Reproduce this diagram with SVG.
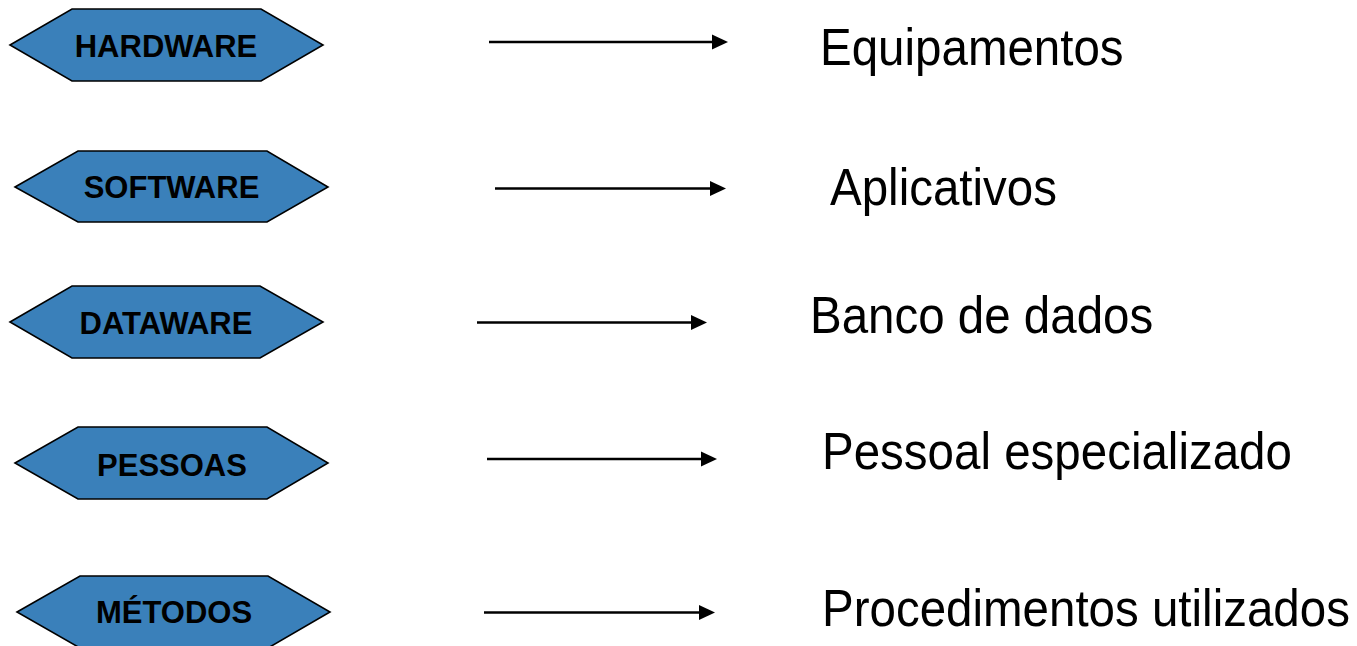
<svg xmlns="http://www.w3.org/2000/svg" width="1357" height="646" viewBox="0 0 1357 646">
  <style>
    .hex { fill: #3a80ba; stroke: #000; stroke-width: 1.6; stroke-linejoin: miter; }
    .tag { font-family: "Liberation Sans", Arial, sans-serif; font-weight: bold; font-size: 31px; fill: #000; text-anchor: middle; }
    .desc { font-family: "Liberation Sans", Arial, sans-serif; font-size: 47.5px; fill: #000; }
    .conn { stroke: #000; stroke-width: 2.5; fill: none; marker-end: url(#ah); }
  </style>
  <defs>
    <marker id="ah" markerWidth="17" markerHeight="16" refX="8" refY="8" orient="auto" markerUnits="userSpaceOnUse">
      <path d="M0,0.5 L16,8 L0,15.5 Z" fill="#000"/>
    </marker>
  </defs>
  <rect width="1357" height="646" fill="#fff"/>

  <!-- Category hexagons -->
  <g id="node-hardware">
    <polygon class="hex" points="10,45 72,9 261,9 323,45 261,81 72,81"/>
    <text class="tag" x="166" y="57">HARDWARE</text>
  </g>
  <g id="node-software">
    <polygon class="hex" points="15,187 78,151 267,151 328,187 267,222 78,222"/>
    <text class="tag" x="171.5" y="197.5">SOFTWARE</text>
  </g>
  <g id="node-dataware">
    <polygon class="hex" points="10,322 72,286 260,286 323,322 260,358 72,358"/>
    <text class="tag" x="166" y="334">DATAWARE</text>
  </g>
  <g id="node-pessoas">
    <polygon class="hex" points="15,463 78,427 267,427 328,463 267,499 78,499"/>
    <text class="tag" x="172" y="476">PESSOAS</text>
  </g>
  <g id="node-metodos">
    <polygon class="hex" points="17,612 80,576 268,576 330,612 268,648 80,648"/>
    <text class="tag" x="174" y="623">MÉTODOS</text>
  </g>

  <!-- Connectors -->
  <g id="connectors">
    <line class="conn" x1="489" y1="42" x2="720" y2="42"/>
    <line class="conn" x1="495" y1="188.5" x2="718" y2="188.5"/>
    <line class="conn" x1="477" y1="322.5" x2="699" y2="322.5"/>
    <line class="conn" x1="487" y1="459" x2="709" y2="459"/>
    <line class="conn" x1="484" y1="612.5" x2="707" y2="612.5"/>
  </g>

  <!-- Descriptions -->
  <g id="label-equipamentos"><text class="desc" transform="translate(820,65) scale(1,1.1)">Equipamentos</text></g>
  <g id="label-aplicativos"><text class="desc" transform="translate(830,205) scale(1,1.1)">Aplicativos</text></g>
  <g id="label-banco"><text class="desc" transform="translate(810,333) scale(1,1.1)">Banco de dados</text></g>
  <g id="label-pessoal"><text class="desc" transform="translate(822,469) scale(1,1.1)">Pessoal especializado</text></g>
  <g id="label-procedimentos"><text class="desc" transform="translate(822,626) scale(1,1.1)">Procedimentos utilizados</text></g>
</svg>
